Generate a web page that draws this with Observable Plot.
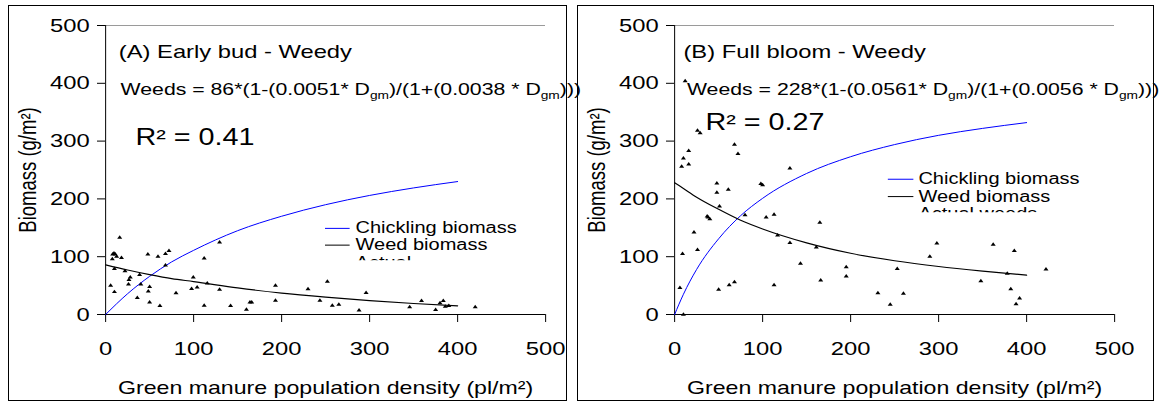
<!DOCTYPE html>
<html>
<head>
<meta charset="utf-8">
<script src="https://cdn.jsdelivr.net/npm/d3@7"></script>
<script src="https://cdn.jsdelivr.net/npm/@observablehq/plot@0.6"></script>
<style>
  html, body { margin: 0; padding: 0; background: #fff; }
  #wrap { position: relative; width: 1162px; height: 406px; overflow: hidden; }
  .panel { position: absolute; top: 5px; height: 396px; box-sizing: border-box; border: 1px solid #000; overflow: visible; }
  .panel svg { display: block; overflow: visible; }
  .panel svg path, .panel svg line { vector-effect: non-scaling-stroke; }
</style>
</head>
<body>
<div id="wrap">
  <div class="panel" id="pA" style="left:8px;width:559px;"></div>
  <div class="panel" id="pB" style="left:577px;width:577px;"></div>
</div>
<script>
// ---------- data ----------
const xTicks = [0, 100, 200, 300, 400, 500];
const yTicks = [0, 100, 200, 300, 400, 500];

// fitted curves (density, biomass)
const curveDA = [0, 25, 50, 75, 100, 150, 200, 250, 300, 350, 400];
const chickA  = [0, 36, 66, 91, 111, 145, 170, 190, 206, 219, 230];
const weedA   = [86, 77, 69, 62, 57, 46, 37, 30, 24, 19, 15];

const curveDB = [0, 10, 25, 50, 75, 100, 150, 200, 250, 300, 350, 400];
const chickB  = [0, 35, 78, 131, 171, 201, 244, 273, 294, 310, 322, 332];
const weedB   = [228, 218, 203, 182, 163, 148, 124, 106, 93, 83, 75, 68];

// actual weeds [density, biomass]
const actualA = [
  [16,133],[9.5,106],[8,104],[11,104],[12.5,100],[7.6,96],[18,98],[48,104],[59.5,100],[68,105],
  [72,110],[68,85],[129.5,125],[112,97],[10,79],[22,75],[28,64.5],[26.5,60],[38.6,68.6],[99.6,64.5],
  [26,52],[40,52],[115.5,54],[5.7,50],[50,48],[48.5,40],[97.7,44.5],[104,47],[129.5,43],[10,39],
  [80,37],[36,29],[50,21],[61.7,15],[112,15.6],[142,15],[160,8.7],[164,21],[166,21],[193,50],
  [193,24],[230,44],[252,57],[243.5,24],[257.6,15.6],[265,17],[296,37.5],[288,7],[345.5,12.7],[359,23.6],
  [375,8],[380,19.6],[383.7,23.6],[386,13.8],[390,15],[420,13]
];
const actualB = [
  [12,404],[10,270],[16,283],[8,256],[16,260],[26,318],[29,314],[68,294],[72,278],[131,253],
  [48,227],[48,211],[61,216],[98,226],[100,224],[51,187],[37,170],[38,168],[40,165],[80,172],
  [104,168],[113,173],[165,159],[22,142],[117,137],[26,112],[131,124],[161,116],[9,105],[143,88],
  [6,46],[50,43],[62,51],[68,56],[113,51],[10,0],[166,59],[195,82],[195,66],[231,37],
  [245,17],[260,36],[253,79],[290,100],[298,123],[362,121],[386,110],[422,78],[348,58],[378,71],
  [382,44],[392,28],[388,18]
];

// texts
const titles = ["(A) Early bud - Weedy", "(B) Full bloom - Weedy"];
const equations = [
  "Weeds = 86*(1-(0.0051* D{gm})/(1+(0.0038 * D{gm})))",
  "Weeds = 228*(1-(0.0561* D{gm})/(1+(0.0056 * D{gm})))"
];
const r2Labels = ["R\u00B2 = 0.41", "R\u00B2 = 0.27"];
const legendLabels = ["Chickling biomass", "Weed biomass"];
const actualLabels = ["Actual", "Actual weeds"];
const xLabel = "Green manure population density (pl/m\u00B2)";
const yLabel = "Biomass (g/m\u00B2)";

// ---------- layout (data units of each panel) ----------
const layoutA = { title: [15, 455], eq: [17, 390], r2: [34, 306],
  legX1: 250, legX2: 278, legText: 284, chickY: 149, weedY: 120, actualY: 90, clipB: 94 };
const layoutB = { title: [10, 455], eq: [14, 390], r2: [35, 332],
  legX1: 243, legX2: 272, legText: 277, chickY: 234, weedY: 204, actualY: 174, clipB: 177 };

const FONT = '"Liberation Sans", Arial, Helvetica, sans-serif';
const S = 1.25;      // horizontal stretch of the original figure
const H = 394;
const NS = "http://www.w3.org/2000/svg";

function build(el, pxWidth, cfg) {
  const W = pxWidth / S;
  const mL = 96 / S, plotW = 440 / S, mR = W - mL - plotW;
  const L = cfg.layout;
  const chick = cfg.curveD.map((d, i) => ({d, b: cfg.chick[i]}));
  const weed = cfg.curveD.map((d, i) => ({d, b: cfg.weed[i]}));

  const chart = Plot.plot({
    width: W, height: H,
    marginLeft: mL, marginRight: mR, marginTop: 19, marginBottom: 86,
    x: {domain: [0, 500], label: null},
    y: {domain: [0, 500], label: null},
    style: {fontFamily: FONT, fontSize: "18px", color: "#000", background: "transparent", overflow: "visible"},
    marks: [
      Plot.ruleY([500], {stroke: "#9a9a9a"}),
      Plot.axisY({ticks: yTicks, tickSize: 8 / S, tickPadding: 8 / S, fontSize: 19, label: null}),
      Plot.axisX({ticks: xTicks, tickSize: 8, tickPadding: 19, fontSize: 19, label: null}),
      Plot.ruleX([0], {stroke: "#000"}),
      Plot.ruleY([0], {stroke: "#000"}),
      Plot.line(chick, {x: "d", y: "b", stroke: "#0000ff", strokeWidth: 1, curve: "monotone-x"}),
      Plot.line(weed, {x: "d", y: "b", stroke: "#000", strokeWidth: 1.2, curve: "monotone-x"}),
      Plot.dot(cfg.actual, {x: d => d[0], y: d => d[1], symbol: "triangle", r: 1.5, fill: "#000", stroke: "none"}),
      Plot.text([cfg.title], {x: L.title[0], y: L.title[1], text: d => d, textAnchor: "start", fontSize: 19}),
      Plot.text([cfg.eq], {x: L.eq[0], y: L.eq[1], text: d => d, textAnchor: "start", fontSize: 17}),
      Plot.text([cfg.r2], {x: L.r2[0], y: L.r2[1], text: d => d, textAnchor: "start", fontSize: 23}),
      Plot.ruleY([L.chickY], {x1: L.legX1, x2: L.legX2, stroke: "#0000ff"}),
      Plot.ruleY([L.weedY], {x1: L.legX1, x2: L.legX2, stroke: "#000"}),
      Plot.text([legendLabels[0]], {x: L.legText, y: L.chickY, text: d => d, textAnchor: "start", fontSize: 16}),
      Plot.text([legendLabels[1]], {x: L.legText, y: L.weedY, text: d => d, textAnchor: "start", fontSize: 16}),
      Plot.text([cfg.actualLabel], {x: L.legText, y: L.actualY, text: d => d, textAnchor: "start", fontSize: 16}),
      Plot.text([yLabel], {frameAnchor: "left", dx: -(105 - 28) / S, rotate: -90, textAnchor: "middle", lineAnchor: "middle", text: d => d, fontSize: 18.5}),
      Plot.text([xLabel], {frameAnchor: "bottom", dy: 73.5, textAnchor: "middle", lineAnchor: "middle", text: d => d, fontSize: 18.5})
    ]
  });

  // subscripts in the equation, narrower title, clipping of the legend's last entry
  const yScale = chart.scale("y");
  chart.querySelectorAll("text").forEach(t => {
    const s = t.textContent;
    if (s === cfg.title) {
      // the original title glyphs are taller than they are wide
      const natural = t.getComputedTextLength();
      t.setAttribute("textLength", natural * 17 / 19);
      t.setAttribute("lengthAdjust", "spacingAndGlyphs");
    }
    if (s.includes("{gm}")) {
      const parts = s.split("{gm}");
      t.textContent = "";
      parts.forEach((p, i) => {
        const a = document.createElementNS(NS, "tspan");
        a.textContent = p;
        if (i > 0) a.setAttribute("dy", "-4");
        t.appendChild(a);
        if (i < parts.length - 1) {
          const b = document.createElementNS(NS, "tspan");
          b.textContent = "gm";
          b.setAttribute("font-size", "11");
          b.setAttribute("dy", "4");
          t.appendChild(b);
        }
      });
    }
    if (s === cfg.actualLabel) {
      const id = "clip" + Math.random().toString(36).slice(2);
      const cp = document.createElementNS(NS, "clipPath");
      cp.setAttribute("id", id);
      cp.setAttribute("clipPathUnits", "userSpaceOnUse");
      const r = document.createElementNS(NS, "rect");
      r.setAttribute("x", 0); r.setAttribute("y", 0);
      r.setAttribute("width", W); r.setAttribute("height", yScale.apply(L.clipB));
      cp.appendChild(r);
      chart.insertBefore(cp, chart.firstChild);
      t.parentNode.setAttribute("clip-path", `url(#${id})`);
    }
  });

  chart.setAttribute("viewBox", `0 0 ${W} ${H}`);
  chart.setAttribute("width", pxWidth);
  chart.setAttribute("height", H);
  chart.setAttribute("preserveAspectRatio", "none");
  chart.style.maxWidth = "none";
  chart.style.width = pxWidth + "px";
  chart.style.height = H + "px";
  el.appendChild(chart);
}

// measure text lengths only once the chart is in the document
function mount(el, pxWidth, cfg) {
  const holder = document.createElement("div");
  el.appendChild(holder);
  build(holder, pxWidth, cfg);
}

mount(document.getElementById("pA"), 557, {
  curveD: curveDA, chick: chickA, weed: weedA, actual: actualA,
  title: titles[0], eq: equations[0], r2: r2Labels[0], actualLabel: actualLabels[0], layout: layoutA
});
mount(document.getElementById("pB"), 575, {
  curveD: curveDB, chick: chickB, weed: weedB, actual: actualB,
  title: titles[1], eq: equations[1], r2: r2Labels[1], actualLabel: actualLabels[1], layout: layoutB
});
</script>
</body>
</html>
